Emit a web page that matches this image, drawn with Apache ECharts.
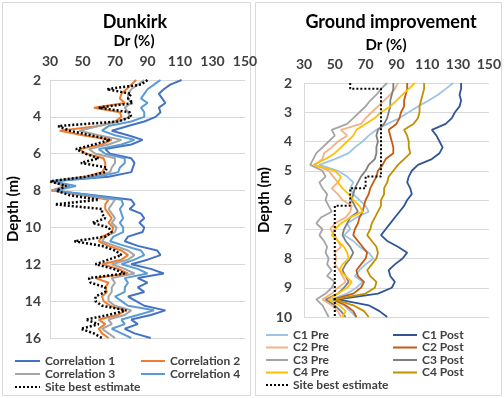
<!DOCTYPE html>
<html>
<head>
<meta charset="utf-8">
<script src="https://cdn.jsdelivr.net/npm/echarts@6/dist/echarts.min.js"></script>
<style>
  html, body { margin: 0; padding: 0; background: #fff; }
  #chart { width: 504px; height: 398px; }
</style>
</head>
<body>
<div id="chart"></div>
<script>
// ---- Dunkirk panel (depth in m, Dr in %) ----
const depthL = [2, 2.25, 2.5, 2.75, 3, 3.25, 3.5, 3.75, 4, 4.25, 4.5, 4.75, 5, 5.25, 5.5, 5.75,
  6, 6.25, 6.5, 6.75, 7, 7.25, 7.5, 7.75, 8, 8.25, 8.5, 8.75, 9, 9.25, 9.5, 9.75, 10, 10.25,
  10.5, 10.75, 11, 11.25, 11.5, 11.75, 12, 12.25, 12.5, 12.75, 13, 13.25, 13.5, 13.75, 14,
  14.25, 14.5, 14.75, 15, 15.25, 15.5, 15.75, 16]
const corr1 = [111, 104, 100, 97, 99, 101, 97, 98, 95, 88, 78, 68, 78, 87, 80, 64, 67,
  80, 82, 81, 80, 66, 32, 42, 31, 57, 80, 82, 79, 86, 88, 85, 88, 87, 78, 76, 84, 96, 98, 90, 80,
  92, 100, 84, 90, 84, 88, 78, 83, 88, 101, 92, 80, 84, 76, 82, 92]
const corr2 = [83, 80, 77, 74, 73, 76, 57, 73, 74, 70, 60, 36, 50, 68, 62, 48, 52,
  63, 64, 64, 62, 52, 31, 39, 31, 50, 66, 64, 64, 66, 68, 66, 69, 68, 62, 60, 66, 74, 78, 74, 62,
  72, 78, 58, 66, 64, 65, 62, 63, 67, 76, 72, 60, 64, 60, 62, 66]
const corr3 = [88, 84, 80, 78, 78, 80, 76, 78, 79, 72, 60, 48, 60, 74, 66, 54, 58,
  70, 70, 68, 67, 56, 31, 41, 32, 52, 70, 68, 66, 68, 70, 68, 71, 70, 64, 62, 70, 78, 82, 78, 68,
  76, 82, 68, 70, 68, 68, 66, 66, 70, 80, 76, 66, 68, 62, 66, 70]
const corr4 = [98, 94, 90, 88, 86, 90, 86, 88, 88, 80, 66, 62, 70, 82, 74, 60, 64,
  76, 76, 73, 72, 60, 32, 46, 33, 55, 74, 75, 73, 74, 75, 73, 75, 75, 69, 67, 76, 86, 88, 82, 74,
  84, 90, 76, 78, 76, 76, 70, 74, 78, 94, 84, 74, 76, 68, 74, 80]
const bestL = [90, 86, 65, 80, 78, 81, 60, 79, 80, 72, 35, 42, 55, 67, 57, 46, 52,
  60, 49, 65, 64, 52, 30, 40, 34, 42, 60, 33, 62, 62, 64, 56, 66, 68, 64, 45, 62, 70, 74, 66, 58,
  69, 76, 54, 55, 64, 64, 58, 58, 62, 77, 66, 52, 60, 49, 57, 62]

// ---- Ground improvement panel ----
const depthR = [2, 2.2, 2.4, 2.6, 2.8, 3, 3.2, 3.4, 3.6, 3.8, 4, 4.2, 4.4, 4.6, 4.8, 5, 5.2,
  5.4, 5.6, 5.8, 6, 6.2, 6.4, 6.6, 6.8, 7, 7.2, 7.4, 7.6, 7.8, 8, 8.2, 8.4, 8.6, 8.8, 9, 9.2,
  9.4, 9.6, 9.8, 10]
const c1Pre = [127, 122, 117, 111, 104, 98, 92, 84, 77, 72, 68, 63, 59, 50, 40, 52, 58, 62, 60, 62,
  66, 70, 72, 64, 58, 60, 56, 62, 66, 72, 75, 70, 66, 63, 68, 64, 58, 48, 56, 60, 64]
const c1Post = [132, 132, 131, 132, 131, 128, 126, 122, 113, 116, 118, 120, 118, 113, 104, 100, 98, 97, 99, 100,
  97, 95, 92, 89, 86, 83, 80, 84, 91, 97, 94, 89, 85, 86, 89, 87, 78, 52, 72, 79, 84]
const c2Pre = [91, 89, 86, 82, 78, 74, 70, 67, 54, 58, 52, 48, 43, 42, 37, 46, 49, 52, 48, 52,
  55, 61, 60, 57, 50, 47, 50, 52, 54, 50, 51, 50, 53, 55, 57, 52, 48, 42, 48, 52, 54]
const c2Post = [97, 97, 96, 95, 95, 93, 92, 90, 85, 86, 87, 88, 88, 83, 81, 78, 77, 75, 73, 72,
  70, 69, 68, 66, 65, 63, 62, 65, 68, 71, 70, 67, 64, 65, 69, 67, 62, 49, 57, 62, 64]
const c3Pre = [84, 80, 77, 73, 70, 66, 62, 58, 48, 50, 46, 42, 38, 36, 34, 42, 44, 40, 42, 45,
  44, 46, 48, 41, 38, 42, 40, 43, 45, 44, 46, 45, 48, 45, 50, 48, 44, 38, 42, 44, 46]
const c3Post = [88, 88, 87, 86, 86, 85, 84, 82, 78, 77, 78, 77, 77, 76, 72, 70, 67, 65, 63, 62,
  61, 63, 65, 60, 58, 56, 55, 57, 60, 62, 60, 57, 55, 57, 59, 56, 52, 44, 50, 54, 57]
const c4Pre = [102, 98, 94, 90, 86, 80, 76, 70, 64, 62, 58, 54, 50, 44, 36, 50, 54, 52, 55, 59,
  62, 66, 68, 60, 54, 50, 48, 52, 56, 58, 59, 55, 53, 57, 61, 58, 52, 46, 53, 57, 55]
const c4Post = [108, 108, 107, 106, 105, 105, 104, 101, 95, 97, 98, 98, 99, 95, 91, 88, 85, 84, 82, 82,
  80, 80, 78, 76, 74, 73, 71, 74, 77, 78, 77, 74, 71, 73, 77, 76, 70, 50, 62, 69, 72]
// site best estimate is a step profile
const bestRVals = [60, 60, 80, 80, 70, 70, 60, 60, 50, 50]
const bestRDepth = [2, 2.2, 2.2, 5.2, 5.2, 5.6, 5.6, 6.2, 6.2, 10]

const xTicks = [30, 50, 70, 90, 110, 130, 150]

const FONT = 'Lato, "Liberation Sans", sans-serif'
const TXT = '#404040'
const GRID_LINE = '#d9d9d9'

const chart = echarts.init(document.getElementById('chart'))

const pts = (vals, depths) => vals.map((v, i) => [v, depths[i]])

const lineSeries = (name, vals, depths, color, idx, width, dotted) => ({
  name,
  type: 'line',
  xAxisIndex: idx,
  yAxisIndex: idx,
  data: pts(vals, depths),
  symbol: 'none',
  animation: false,
  lineStyle: {
    color,
    width,
    type: dotted ? [2, 2] : 'solid'
  },
  itemStyle: { color }
})

const xAxisCfg = (idx) => ({
  type: 'value',
  gridIndex: idx,
  position: 'top',
  min: xTicks[0],
  max: xTicks[xTicks.length - 1],
  interval: 20,
  axisLine: { show: false },
  axisTick: { show: false },
  splitLine: { show: false },
  axisLabel: {
    margin: 12,
    fontFamily: FONT,
    fontWeight: 'bold',
    fontSize: 14,
    color: TXT
  }
})

const yAxisCfg = (idx, max, interval, gap, margin) => ({
  type: 'value',
  gridIndex: idx,
  inverse: true,
  min: 2,
  max,
  interval,
  name: 'Depth (m)',
  nameLocation: 'middle',
  nameRotate: 90,
  nameGap: gap,
  nameTextStyle: { fontFamily: FONT, fontWeight: 'bold', fontSize: 15, color: '#000' },
  axisLine: { show: true, lineStyle: { color: GRID_LINE } },
  axisTick: { show: false },
  splitLine: { show: true, lineStyle: { color: GRID_LINE, width: 1 } },
  axisLabel: {
    margin,
    fontFamily: FONT,
    fontWeight: 'bold',
    fontSize: 14,
    color: TXT
  }
})

const legendCfg = (data, left, top, itemWidth, gap) => ({
  data,
  orient: 'vertical',
  left,
  top,
  itemWidth,
  itemHeight: 14,
  itemGap: gap,
  selectedMode: false,
  // hide the marker, keep only the line sample
  itemStyle: { opacity: 0 },
  textStyle: { fontFamily: FONT, fontSize: 12, color: TXT, fontWeight: 'bold' }
})

const titleText = (text, x, y, size) => ({
  type: 'text',
  x,
  y,
  style: {
    text,
    fontFamily: FONT,
    fontWeight: 'bold',
    fontSize: size,
    fill: '#000',
    align: 'center',
    verticalAlign: 'middle'
  }
})

const option = {
  backgroundColor: '#fff',
  animation: false,
  grid: [
    { left: 50, top: 80, width: 195, height: 258 },
    { left: 304, top: 83, width: 188, height: 234 }
  ],
  xAxis: [xAxisCfg(0), xAxisCfg(1)],
  yAxis: [yAxisCfg(0, 16, 2, 28, 9), yAxisCfg(1, 10, 1, 31, 12)],
  legend: [
    legendCfg(['Correlation 1', 'Correlation 3', 'Site best estimate'], 9, 350, 25, 1),
    legendCfg(['Correlation 2', 'Correlation 4'], 135, 350, 24, 1),
    legendCfg(['C1 Pre', 'C2 Pre', 'C3 Pre', 'C4 Pre', 'Site best estimate'], 260, 324, 22, 0.5),
    legendCfg(['C1 Post', 'C2 Post', 'C3 Post', 'C4 Post'], 387, 324, 24, 0.5)
  ],
  graphic: [
    { type: 'rect', shape: { x: 2.5, y: 2.5, width: 248, height: 393 }, style: { fill: 'none', stroke: GRID_LINE, lineWidth: 1 } },
    { type: 'rect', shape: { x: 255.5, y: 2.5, width: 246, height: 393 }, style: { fill: 'none', stroke: GRID_LINE, lineWidth: 1 } },
    titleText('Dunkirk', 135, 22, 18),
    titleText('Dr (%)', 134, 41, 15),
    titleText('Ground improvement', 391, 22, 18),
    titleText('Dr (%)', 386, 45, 15)
  ],
  series: [
    lineSeries('Correlation 1', corr1, depthL, '#4472c4', 0, 2),
    lineSeries('Correlation 2', corr2, depthL, '#ed7d31', 0, 2),
    lineSeries('Correlation 3', corr3, depthL, '#a5a5a5', 0, 2),
    lineSeries('Correlation 4', corr4, depthL, '#5b9bd5', 0, 2),
    lineSeries('Site best estimate', bestL, depthL, '#000000', 0, 2.5, true),

    lineSeries('C1 Pre', c1Pre, depthR, '#9dc3e6', 1, 1.8),
    lineSeries('C1 Post', c1Post, depthR, '#2f5597', 1, 1.8),
    lineSeries('C2 Pre', c2Pre, depthR, '#f4b183', 1, 1.8),
    lineSeries('C2 Post', c2Post, depthR, '#c55a11', 1, 1.8),
    lineSeries('C3 Pre', c3Pre, depthR, '#a5a5a5', 1, 1.8),
    lineSeries('C3 Post', c3Post, depthR, '#7f7f7f', 1, 1.8),
    lineSeries('C4 Pre', c4Pre, depthR, '#ffc000', 1, 1.8),
    lineSeries('C4 Post', c4Post, depthR, '#bf9000', 1, 1.8),
    lineSeries('Site best estimate', bestRVals, bestRDepth, '#000000', 1, 2, true)
  ]
}

chart.setOption(option)
window.addEventListener('resize', () => chart.resize())
</script>
</body>
</html>
